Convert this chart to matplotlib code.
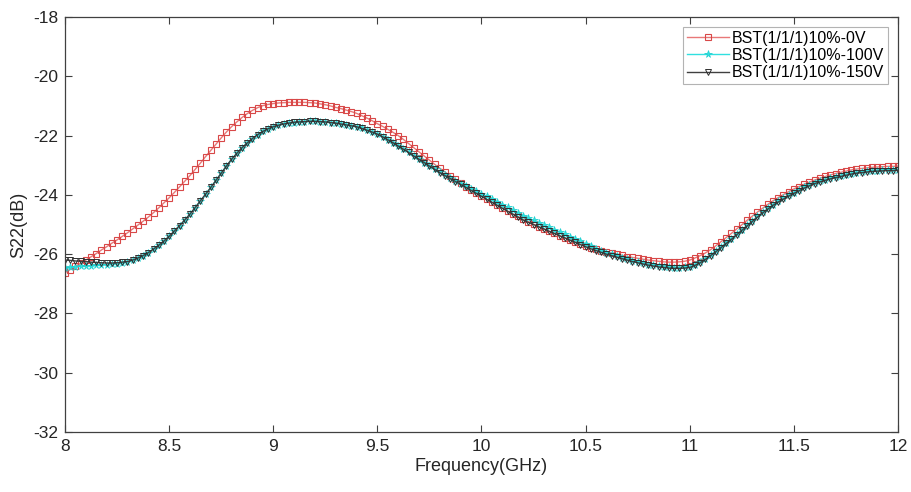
import numpy as np
import matplotlib
matplotlib.use("Agg")
import matplotlib.pyplot as plt

plt.rcParams['font.family'] = ['Liberation Sans', 'DejaVu Sans']
plt.rcParams['axes.unicode_minus'] = False

# Frequency sweep 8-12 GHz, 0.025 GHz step
freq = np.linspace(8.0, 12.0, 161)

s22_0v = [
    -26.62, -26.52, -26.41, -26.31, -26.20, -26.09, -25.98, -25.86,
    -25.75, -25.63, -25.52, -25.40, -25.28, -25.15, -25.02, -24.89,
    -24.75, -24.60, -24.44, -24.27, -24.10, -23.92, -23.73, -23.54,
    -23.35, -23.14, -22.93, -22.71, -22.50, -22.29, -22.08, -21.88,
    -21.70, -21.54, -21.39, -21.26, -21.15, -21.06, -20.99, -20.95,
    -20.92, -20.90, -20.89, -20.88, -20.88, -20.88, -20.88, -20.89,
    -20.90, -20.93, -20.96, -21.00, -21.05, -21.09, -21.14, -21.19,
    -21.25, -21.33, -21.41, -21.50, -21.60, -21.69, -21.79, -21.89,
    -22.00, -22.13, -22.27, -22.41, -22.55, -22.69, -22.83, -22.97,
    -23.10, -23.23, -23.36, -23.48, -23.60, -23.72, -23.83, -23.94,
    -24.05, -24.15, -24.25, -24.35, -24.45, -24.55, -24.64, -24.73,
    -24.82, -24.90, -24.99, -25.07, -25.15, -25.23, -25.30, -25.38,
    -25.45, -25.52, -25.59, -25.66, -25.72, -25.78, -25.83, -25.88,
    -25.92, -25.96, -26.00, -26.04, -26.08, -26.11, -26.14, -26.17,
    -26.20, -26.22, -26.24, -26.26, -26.27, -26.27, -26.26, -26.24,
    -26.20, -26.13, -26.05, -25.96, -25.85, -25.72, -25.58, -25.44,
    -25.30, -25.15, -25.01, -24.86, -24.72, -24.58, -24.45, -24.32,
    -24.20, -24.09, -23.99, -23.89, -23.80, -23.72, -23.64, -23.57,
    -23.50, -23.44, -23.38, -23.33, -23.28, -23.24, -23.20, -23.16,
    -23.13, -23.11, -23.09, -23.07, -23.06, -23.05, -23.04, -23.04,
    -23.03,
]

s22_100v = [
    -26.48, -26.45, -26.43, -26.41, -26.40, -26.39, -26.38, -26.37,
    -26.36, -26.34, -26.32, -26.30, -26.27, -26.21, -26.14, -26.05,
    -25.95, -25.83, -25.70, -25.56, -25.40, -25.22, -25.04, -24.85,
    -24.65, -24.43, -24.21, -23.98, -23.75, -23.51, -23.27, -23.03,
    -22.80, -22.60, -22.41, -22.25, -22.10, -21.97, -21.86, -21.77,
    -21.70, -21.65, -21.61, -21.58, -21.56, -21.54, -21.53, -21.52,
    -21.52, -21.53, -21.54, -21.56, -21.58, -21.61, -21.64, -21.67,
    -21.71, -21.76, -21.82, -21.88, -21.95, -22.04, -22.14, -22.24,
    -22.35, -22.46, -22.57, -22.69, -22.80, -22.91, -23.02, -23.13,
    -23.24, -23.34, -23.44, -23.53, -23.62, -23.71, -23.80, -23.88,
    -23.96, -24.05, -24.14, -24.24, -24.33, -24.42, -24.52, -24.61,
    -24.70, -24.78, -24.86, -24.94, -25.02, -25.10, -25.18, -25.25,
    -25.33, -25.41, -25.49, -25.57, -25.65, -25.73, -25.81, -25.88,
    -25.95, -26.01, -26.07, -26.13, -26.18, -26.23, -26.27, -26.31,
    -26.35, -26.38, -26.41, -26.43, -26.45, -26.46, -26.46, -26.45,
    -26.43, -26.36, -26.27, -26.16, -26.03, -25.90, -25.76, -25.62,
    -25.48, -25.33, -25.18, -25.03, -24.88, -24.73, -24.59, -24.46,
    -24.33, -24.22, -24.12, -24.02, -23.93, -23.84, -23.75, -23.67,
    -23.60, -23.54, -23.49, -23.44, -23.40, -23.36, -23.32, -23.28,
    -23.25, -23.23, -23.21, -23.19, -23.18, -23.17, -23.16, -23.16,
    -23.15,
]

s22_150v = [
    -26.20, -26.21, -26.23, -26.24, -26.25, -26.27, -26.28, -26.29,
    -26.30, -26.30, -26.29, -26.27, -26.25, -26.20, -26.13, -26.05,
    -25.95, -25.83, -25.70, -25.56, -25.40, -25.22, -25.04, -24.85,
    -24.65, -24.43, -24.20, -23.98, -23.75, -23.51, -23.27, -23.03,
    -22.80, -22.60, -22.41, -22.25, -22.10, -21.97, -21.86, -21.77,
    -21.70, -21.65, -21.61, -21.58, -21.55, -21.54, -21.53, -21.52,
    -21.52, -21.53, -21.54, -21.56, -21.58, -21.61, -21.64, -21.67,
    -21.70, -21.76, -21.82, -21.88, -21.95, -22.04, -22.14, -22.24,
    -22.35, -22.46, -22.57, -22.69, -22.80, -22.91, -23.03, -23.14,
    -23.25, -23.35, -23.45, -23.55, -23.65, -23.75, -23.85, -23.95,
    -24.05, -24.15, -24.25, -24.35, -24.45, -24.55, -24.65, -24.75,
    -24.85, -24.93, -25.00, -25.08, -25.15, -25.23, -25.30, -25.38,
    -25.45, -25.53, -25.60, -25.68, -25.75, -25.82, -25.88, -25.94,
    -26.00, -26.05, -26.10, -26.15, -26.20, -26.25, -26.29, -26.33,
    -26.37, -26.40, -26.43, -26.45, -26.47, -26.48, -26.48, -26.47,
    -26.45, -26.38, -26.29, -26.18, -26.05, -25.92, -25.78, -25.64,
    -25.50, -25.35, -25.20, -25.05, -24.90, -24.75, -24.61, -24.48,
    -24.35, -24.24, -24.14, -24.04, -23.95, -23.86, -23.77, -23.69,
    -23.62, -23.56, -23.51, -23.46, -23.42, -23.38, -23.34, -23.30,
    -23.27, -23.25, -23.23, -23.21, -23.20, -23.19, -23.18, -23.18,
    -23.17,
]

labels = ['BST(1/1/1)10%-0V', 'BST(1/1/1)10%-100V', 'BST(1/1/1)10%-150V']
x_ticks = [8, 8.5, 9, 9.5, 10, 10.5, 11, 11.5, 12]
x_ticklabels = ['8', '8.5', '9', '9.5', '10', '10.5', '11', '11.5', '12']
y_ticks = [-32, -30, -28, -26, -24, -22, -20, -18]

fig = plt.figure(figsize=(9.12, 4.92), dpi=100)
ax = fig.add_axes([65 / 912, 1 - 432 / 492, (898 - 65) / 912, (432 - 17) / 492])

ax.plot(freq, s22_0v, color='#e87878', lw=1.0, marker='s', ms=4.2,
        mfc='none', mec='#d84848', mew=0.8, label=labels[0])
ax.plot(freq, s22_100v, color='#30e0e0', lw=1.0, marker='*', ms=5.5,
        mfc='#30e0e0', mec='#20d0d0', mew=0.5, label=labels[1])
ax.plot(freq, s22_150v, color='#404040', lw=1.0, marker='v', ms=4.6,
        mfc='none', mec='#303030', mew=0.7, label=labels[2])

ax.set_xlim(8, 12)
ax.set_ylim(-32, -18)
ax.set_xticks(x_ticks)
ax.set_xticklabels(x_ticklabels)
ax.set_yticks(y_ticks)

axis_color = '#404040'
for sp in ax.spines.values():
    sp.set_color(axis_color)
    sp.set_linewidth(0.9)
ax.tick_params(direction='in', length=5, width=0.8, colors=axis_color,
               labelcolor='#262626', labelsize=12.5, top=True, right=True,
               pad=5)

ax.set_xlabel('Frequency(GHz)', fontsize=13, color='#262626', labelpad=3)
ax.set_ylabel('S22(dB)', fontsize=13, color='#262626', labelpad=4)

leg = ax.legend(loc='upper right', fontsize=11.5, frameon=True, fancybox=False,
                edgecolor='#a0a0a0', handlelength=2.6, handletextpad=0.2,
                borderpad=0.25, labelspacing=0.15, borderaxespad=0.6)
leg.get_frame().set_linewidth(0.8)

fig.savefig('out.png', dpi=100)
